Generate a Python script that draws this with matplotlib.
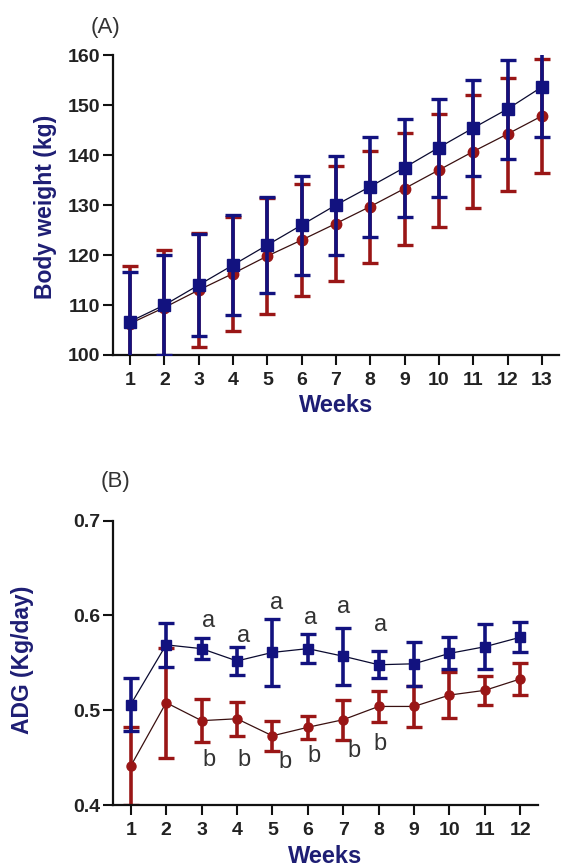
import matplotlib
matplotlib.use("Agg")
import matplotlib.pyplot as plt
import numpy as np

# ---------------- data ----------------
weeks_a = [1, 2, 3, 4, 5, 6, 7, 8, 9, 10, 11, 12, 13]
bw_blue = [106.7, 110, 114, 118, 122, 126, 130, 133.7, 137.5, 141.5, 145.4, 149.2, 153.6]
bw_blue_err = [10, 10, 10.2, 10, 9.6, 9.9, 9.9, 10, 9.8, 9.8, 9.6, 9.9, 10]
bw_red = [106.3, 109.5, 113, 116.3, 119.8, 123, 126.3, 129.7, 133.3, 137, 140.7, 144.2, 147.8]
bw_red_err = [11.5, 11.5, 11.5, 11.4, 11.6, 11.2, 11.5, 11.2, 11.2, 11.3, 11.3, 11.3, 11.3]

weeks_b = [1, 2, 3, 4, 5, 6, 7, 8, 9, 10, 11, 12]
adg_blue = [0.506, 0.569, 0.565, 0.552, 0.561, 0.565, 0.557, 0.548, 0.549, 0.560, 0.567, 0.577]
adg_blue_err = [0.028, 0.023, 0.011, 0.015, 0.035, 0.015, 0.030, 0.014, 0.023, 0.017, 0.024, 0.016]
adg_red = [0.441, 0.508, 0.489, 0.491, 0.473, 0.482, 0.490, 0.504, 0.504, 0.516, 0.521, 0.533]
adg_red_err = [0.041, 0.058, 0.023, 0.018, 0.016, 0.012, 0.021, 0.016, 0.022, 0.024, 0.015, 0.017]

# significance letters
sig_a_x = [3.2, 4.2, 5.12, 6.08, 7.0, 8.05]
sig_a_y = [0.594, 0.578, 0.613, 0.597, 0.609, 0.590]
sig_b_x = [3.2, 4.2, 5.36, 6.18, 7.3, 8.05]
sig_b_y = [0.448, 0.448, 0.445, 0.452, 0.457, 0.464]

yticks_a = [100, 110, 120, 130, 140, 150, 160]
yticks_b = [0.4, 0.5, 0.6, 0.7]

# ---------------- style ----------------
plt.rcParams['font.family'] = ['Liberation Sans', 'DejaVu Sans']
BLUE = '#12127f'
RED = '#9a1616'
LABEL = '#1e1e74'
TXT = '#333333'

W, H = 561, 868
fig = plt.figure(figsize=(W / 100, H / 100), dpi=100)
fig.patch.set_facecolor('white')

def px_axes(l, t, r, b):
    return fig.add_axes([l / W, 1 - b / H, (r - l) / W, (b - t) / H])

axA = px_axes(113, 55, 559, 355)
axB = px_axes(113, 520.7, 538, 805)


def style(ax):
    for s in ['top', 'right']:
        ax.spines[s].set_visible(False)
    for s in ['left', 'bottom']:
        ax.spines[s].set_linewidth(1.6)
        ax.spines[s].set_color('#111111')
    ax.tick_params(axis='both', direction='out', length=7, width=1.5,
                   color='#111111', labelsize=14, labelcolor='#222222')
    ax.tick_params(axis='y', pad=2)
    ax.tick_params(axis='x', pad=5)
    for lab in ax.get_xticklabels() + ax.get_yticklabels():
        lab.set_fontweight('bold')


# ---------- Panel A ----------
axA.errorbar(weeks_a, bw_red, yerr=bw_red_err, color='#3a1010', lw=0.9,
             ecolor=RED, elinewidth=2.6, capsize=5.5, capthick=2.4,
             marker='o', ms=7.5, mfc=RED, mec=RED, zorder=2)
axA.errorbar(weeks_a, bw_blue, yerr=bw_blue_err, color='#0a0a30', lw=0.9,
             ecolor=BLUE, elinewidth=2.6, capsize=5.5, capthick=2.4,
             marker='s', ms=8.5, mfc=BLUE, mec=BLUE, zorder=3)
axA.set_xlim(0.5, 13.5)
axA.set_ylim(100, 160)
axA.set_xticks(weeks_a)
axA.set_yticks(yticks_a)
style(axA)
axA.set_ylabel('Body weight (kg)', fontsize=16.5, fontweight='bold', color=LABEL)
axA.yaxis.set_label_coords(-0.152, 0.493)
axA.yaxis.label.set_va('center')
axA.set_xlabel('Weeks', fontsize=17, fontweight='bold', color=LABEL)
axA.xaxis.set_label_coords(0.5, -0.167)
axA.xaxis.label.set_va('center')

# ---------- Panel B ----------
axB.errorbar(weeks_b, adg_red, yerr=adg_red_err, color='#3a1010', lw=0.9,
             ecolor=RED, elinewidth=2.6, capsize=5.5, capthick=2.4,
             marker='o', ms=6.5, mfc=RED, mec=RED, zorder=2)
axB.errorbar(weeks_b, adg_blue, yerr=adg_blue_err, color='#0a0a30', lw=0.9,
             ecolor=BLUE, elinewidth=2.6, capsize=5.5, capthick=2.4,
             marker='s', ms=7.5, mfc=BLUE, mec=BLUE, zorder=3)
axB.set_xlim(0.5, 12.5)
axB.set_ylim(0.4, 0.7)
axB.set_xticks(weeks_b)
axB.set_yticks(yticks_b)
axB.yaxis.set_major_formatter(matplotlib.ticker.FormatStrFormatter('%.1f'))
style(axB)
axB.set_ylabel('ADG (Kg/day)', fontsize=16.5, fontweight='bold', color=LABEL)
axB.yaxis.set_label_coords(-0.212, 0.509)
axB.yaxis.label.set_va('center')
axB.set_xlabel('Weeks', fontsize=17, fontweight='bold', color=LABEL)
axB.xaxis.set_label_coords(0.5, -0.182)
axB.xaxis.label.set_va('center')

for x, y in zip(sig_a_x, sig_a_y):
    axB.text(x, y, 'a', ha='center', va='center', fontsize=17, color=TXT, zorder=5)
for x, y in zip(sig_b_x, sig_b_y):
    axB.text(x, y, 'b', ha='center', va='center', fontsize=17, color=TXT, zorder=5)

# panel letters
fig.text(106 / W, 1 - 28 / H, '(A)', ha='center', va='center', fontsize=16, color=TXT)
fig.text(116 / W, 1 - 481 / H, '(B)', ha='center', va='center', fontsize=16, color=TXT)

fig.savefig('out.png', dpi=100, facecolor='white')
